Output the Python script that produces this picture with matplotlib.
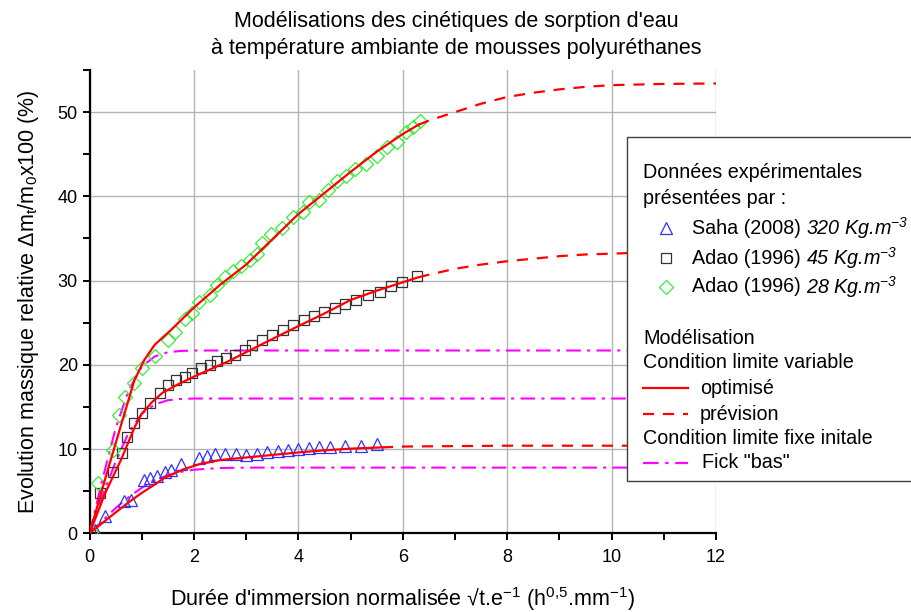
import numpy as np
import matplotlib
matplotlib.use('Agg')
import matplotlib.pyplot as plt
from matplotlib.lines import Line2D
from matplotlib.patches import Rectangle

plt.rcParams['font.family'] = ['Liberation Sans', 'DejaVu Sans']
plt.rcParams['mathtext.fontset'] = 'custom'
plt.rcParams['mathtext.rm'] = 'Liberation Sans'
plt.rcParams['mathtext.it'] = 'Liberation Sans:italic'
plt.rcParams['mathtext.default'] = 'regular'

saha_x = [0.1, 0.3, 0.65, 0.8, 1.05, 1.15, 1.3, 1.45, 1.55, 1.75, 2.1, 2.25, 2.4, 2.6,
          2.8, 3.0, 3.2, 3.4, 3.6, 3.8, 4.0, 4.2, 4.4, 4.6, 4.9, 5.2, 5.5]
saha_y = [0.4, 2.1, 3.8, 4.0, 6.3, 6.6, 6.8, 7.3, 7.5, 8.2, 8.9, 9.2, 9.4, 9.4,
          9.4, 9.3, 9.4, 9.6, 9.8, 9.9, 10.0, 10.1, 10.2, 10.2, 10.4, 10.4, 10.6]

adao45_x = [0.0, 0.2, 0.44, 0.62, 0.72, 0.86, 1.0, 1.15, 1.34, 1.5, 1.66, 1.82, 1.97,
            2.14, 2.3, 2.45, 2.62, 2.78, 2.97, 3.12, 3.3, 3.5, 3.7, 3.9, 4.1, 4.3,
            4.5, 4.7, 4.9, 5.11, 5.33, 5.56, 5.78, 5.98, 6.28]
adao45_y = [0.0, 4.8, 7.3, 9.5, 11.4, 13.1, 14.3, 15.5, 16.7, 17.6, 18.2, 18.6, 19.0,
            19.6, 20.0, 20.4, 20.8, 21.2, 21.8, 22.4, 23.0, 23.6, 24.1, 24.7, 25.3, 25.8,
            26.3, 26.8, 27.2, 27.7, 28.3, 28.7, 29.3, 29.8, 30.6]

adao28_x = [0.02, 0.17, 0.44, 0.57, 0.67, 0.86, 1.0, 1.25, 1.5, 1.63, 1.82, 1.97, 2.1,
            2.3, 2.45, 2.6, 2.74, 2.9, 3.07, 3.2, 3.3, 3.48, 3.68, 3.89, 4.08, 4.21,
            4.4, 4.56, 4.73, 4.92, 5.08, 5.3, 5.5, 5.69, 5.88, 6.07, 6.19, 6.32]
adao28_y = [0.2, 6.0, 9.9, 14.0, 16.2, 17.8, 19.6, 21.0, 23.0, 23.9, 25.4, 26.2, 27.4,
            28.3, 29.5, 30.4, 31.1, 31.7, 32.5, 33.1, 34.5, 35.5, 36.3, 37.6, 38.2, 39.3,
            39.6, 40.8, 41.8, 42.4, 43.2, 43.8, 44.8, 45.8, 46.5, 47.6, 48.2, 48.9]

# model "optimisé" (solid) and "prévision" (dashed)
opt28_x = [0, 0.3, 0.6, 0.86, 1.05, 1.25, 1.57, 2.0, 2.5, 3.0, 3.5, 4.0, 4.5, 5.0, 5.5, 6.0, 6.3]
opt28_y = [0, 6.5, 12.8, 18.2, 20.6, 22.4, 24.2, 26.8, 29.5, 31.9, 34.9, 37.9, 40.4, 42.9, 45.3, 47.4, 48.5]
prev28_x = [6.3, 6.5, 7.0, 7.5, 8.0, 8.5, 9.0, 9.5, 10.0, 11.0, 12.0]
prev28_y = [48.5, 49.0, 50.0, 51.0, 51.8, 52.3, 52.7, 53.0, 53.2, 53.35, 53.4]

opt45_x = [0, 0.3, 0.6, 0.87, 1.0, 1.2, 1.4, 1.7, 2.0, 2.65, 3.35, 4.0, 4.5, 5.0, 5.5, 6.0, 6.3]
opt45_y = [0, 4.8, 8.7, 12.7, 14.2, 15.6, 16.7, 17.7, 18.6, 20.4, 22.6, 24.6, 26.1, 27.7, 28.8, 29.8, 30.4]
prev45_x = [6.3, 6.5, 7.0, 7.5, 8.0, 8.5, 9.0, 9.5, 10.0, 10.5]
prev45_y = [30.4, 30.7, 31.4, 31.9, 32.3, 32.6, 32.9, 33.1, 33.2, 33.3]

opt320_x = [0, 0.3, 0.73, 1.0, 1.2, 1.44, 1.8, 2.1, 2.5, 3.0, 3.5, 4.0, 4.5, 5.0, 5.6]
opt320_y = [0, 1.5, 3.6, 4.8, 5.6, 6.6, 7.6, 8.2, 8.7, 9.0, 9.3, 9.6, 9.85, 10.05, 10.2]
prev320_x = [5.6, 6.0, 7.0, 8.0, 10.0, 12.0]
prev320_y = [10.2, 10.3, 10.35, 10.4, 10.4, 10.4]

# Fick "bas"
fick_x = [0, 0.25, 0.5, 0.75, 1.0, 1.25, 1.5, 1.75, 2.0, 2.5, 3.0, 12]
fick28_y = [0, 6.5, 12.5, 17.0, 19.8, 21.0, 21.5, 21.65, 21.7, 21.7, 21.7, 21.7]
fick45_y = [0, 4.5, 8.5, 12.0, 14.2, 15.3, 15.8, 15.95, 16.0, 16.0, 16.0, 16.0]
fick320_y = [0, 1.5, 3.0, 4.3, 5.4, 6.3, 6.9, 7.3, 7.55, 7.75, 7.8, 7.8]

W, H = 912, 612
fig = plt.figure(figsize=(W / 100, H / 100), dpi=100)
ax = fig.add_axes([89.6 / W, 1 - 533.3 / H, (716 - 89.6) / W, (533.3 - 70) / H])

red = '#ff0000'
mag = '#ff00ff'
dashdot = (0, (7, 3, 1.5, 3))
dash = (0, (5, 4))
for fy in (fick28_y, fick45_y, fick320_y):
    ax.plot(fick_x, fy, color=mag, lw=1.5, ls=dashdot, zorder=3)
for ox, oy, px, py in ((opt28_x, opt28_y, prev28_x, prev28_y),
                       (opt45_x, opt45_y, prev45_x, prev45_y),
                       (opt320_x, opt320_y, prev320_x, prev320_y)):
    ax.plot(ox, oy, color=red, lw=1.6, zorder=5)
    ax.plot(px, py, color=red, lw=1.6, ls=dash, zorder=5)

ax.plot(saha_x, saha_y, ls='none', marker='^', ms=8.5, mfc='none', mec='#3030ff', mew=0.9, zorder=4)
ax.plot(adao45_x, adao45_y, ls='none', marker='s', ms=7.5, mfc='none', mec='#333333', mew=0.9, zorder=4)
ax.plot(adao28_x, adao28_y, ls='none', marker='D', ms=7.5, mfc='none', mec='#33ee33', mew=0.9, zorder=4)

ax.set_xlim(0, 12)
ax.set_ylim(0, 55)
ax.set_xticks(range(0, 13, 2))
ax.set_xticks(range(1, 12, 2), minor=True)
ax.set_yticks(range(0, 51, 10))
ax.set_yticks(range(5, 56, 10), minor=True)
ax.grid(True, which='major', color='#b4b4b4', lw=1.0, zorder=0)
for s in ('top', 'right'):
    ax.spines[s].set_visible(False)
for s in ('left', 'bottom'):
    ax.spines[s].set_linewidth(1.6)
ax.tick_params(which='both', direction='out', length=5, width=1.4, labelsize=13)
ax.tick_params(axis='x', pad=6)
ax.set_xlabel("Durée d'immersion normalisée √t.e$^{-1}$ (h$^{0{,}5}$.mm$^{-1}$)", fontsize=15.5, labelpad=14)
ax.set_ylabel("Evolution massique relative Δm$_{t}$/m$_{0}$x100 (%)", fontsize=15.5, labelpad=12)

fig.text(456 / W, 1 - 35 / H, "Modélisations des cinétiques de sorption d'eau\nà température ambiante de mousses polyuréthanes",
         ha='center', va='center', fontsize=15.5, linespacing=1.4)

# legend box drawn by hand (it overruns the axes on the right)
def fp(px, py):
    return px / W, 1 - py / H

x0, y0 = fp(627, 481)
fig.patches.append(Rectangle((x0, y0), (920 - 627) / W, (481 - 137) / H, transform=fig.transFigure,
                             facecolor='white', edgecolor='#404040', lw=1.0, zorder=10))

fs = 14.2
def ltext(px, py, s, **kw):
    return fig.text(*fp(px, py), s, ha='left', va='center', fontsize=fs, zorder=11, **kw)

renderer = fig.canvas.get_renderer()
ltext(643, 173, "Données expérimentales")
ltext(643, 198, "présentées par :")
for py, who, dens in ((228, "Saha (2008) ", "320"), (258, "Adao (1996) ", "45"), (287, "Adao (1996) ", "28")):
    t = ltext(692, py, who)
    bb = t.get_window_extent(renderer)
    ltext(bb.x1, py, dens + " Kg.m$^{-3}$", fontstyle='italic')
ltext(643, 338, "Modélisation")
ltext(643, 363, "Condition limite variable")
ltext(700, 388, "optimisé")
ltext(700, 414, "prévision")
ltext(643, 438, "Condition limite fixe initale")
ltext(702, 463, 'Fick "bas"')

for py, m, c, ms in ((228, '^', '#3030ff', 8.5), (258, 's', '#333333', 7.5), (287, 'D', '#33ee33', 7.5)):
    fig.add_artist(Line2D([666 / W], [1 - py / H], transform=fig.transFigure, ls='none', marker=m,
                          ms=ms, mfc='none', mec=c, mew=0.9, zorder=11))
for py, c, ls in ((388, red, '-'), (414, red, dash), (463, mag, dashdot)):
    fig.add_artist(Line2D([643 / W, 688 / W], [1 - py / H, 1 - py / H], transform=fig.transFigure,
                          color=c, lw=1.6, ls=ls, zorder=11))

fig.savefig('out.png', dpi=100)
